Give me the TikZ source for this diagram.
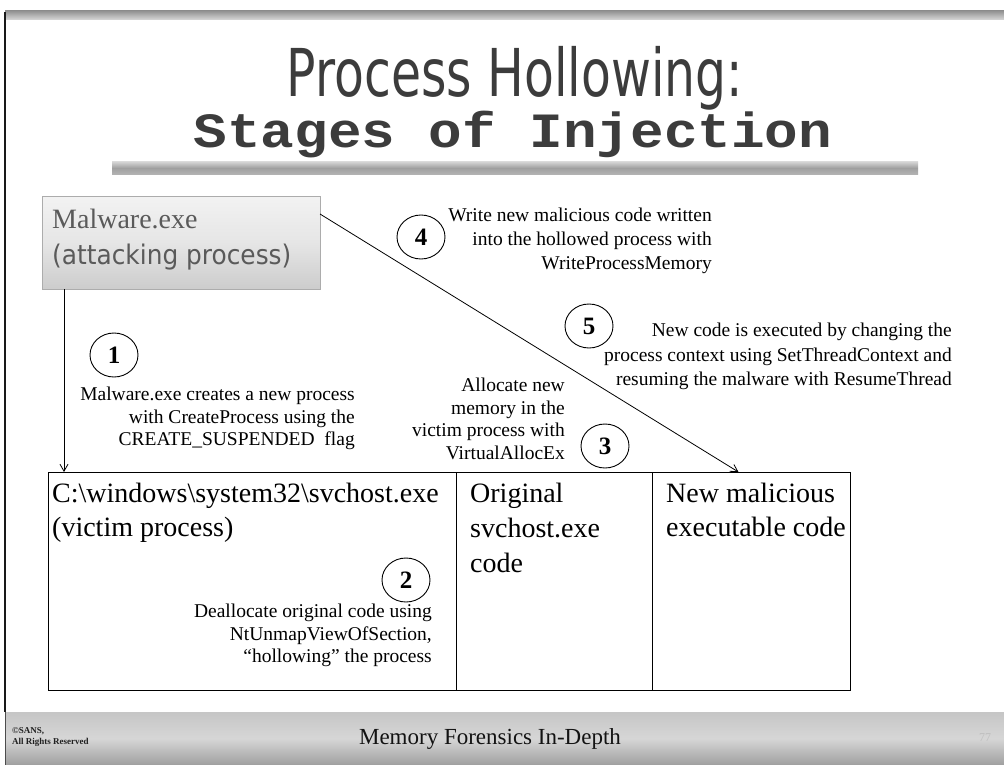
\documentclass[tikz,border=0pt]{standalone}
\usepackage{fontspec}
\setmainfont{Liberation Serif}
\setmonofont{Liberation Mono}
\newfontfamily\slidesans{DejaVu Sans}
\usetikzlibrary{arrows.meta,shapes.geometric}
\definecolor{titlegray}{HTML}{3C3C3C}
\definecolor{boxtext}{HTML}{5A5A5A}
\begin{document}
\begin{tikzpicture}[x=1pt,y=-1pt,
  stage/.style={draw, ellipse, minimum width=48pt, minimum height=44pt, inner sep=0pt,
    line width=0.9pt, fill=white, font=\fontsize{25}{25}\selectfont\bfseries},
  note/.style={align=right, inner sep=0pt, anchor=north east,
    font=\fontsize{19.5}{22.5}\selectfont},
  cell/.style={draw, line width=0.9pt, anchor=north west, inner sep=0pt},
  celltext/.style={align=left, inner sep=0pt, anchor=north west,
    font=\fontsize{28}{34}\selectfont},
  link/.style={line width=0.8pt, -{Straight Barb[length=7pt,width=8pt]}}
]
\useasboundingbox (0,0) rectangle (1004,765);
\fill[white] (0,0) rectangle (1004,765);

% slide frame and footer band
\shade[top color=gray!85, bottom color=gray!30] (5,11) rectangle (1004,20);
\draw[line width=1.2pt, gray!20!black] (5,12) -- (5,712);
\shade[top color=gray!45, bottom color=gray!75, middle color=gray!32] (5,712) rectangle (1004,765);
\draw[line width=1pt, gray!60!black] (5,712) -- (5,765);

% title
\node[font=\slidesans\fontsize{66}{66}\selectfont, text=titlegray, inner sep=0pt, anchor=base]
  (title) at (515,97) {\scalebox{0.74}[1]{Process Hollowing:}};
\node[font=\ttfamily\bfseries\fontsize{56}{56}\selectfont, text=titlegray, inner sep=0pt, anchor=base]
  (subtitle) at (513,148) {\scalebox{1}[0.88]{Stages of Injection}};
\shade[top color=gray!35, bottom color=gray!60, middle color=gray!75] (112,162) rectangle (918,174);

% attacking process
\node[draw=gray!65, line width=0.8pt, top color=gray!10, bottom color=gray!40, middle color=gray!20,
  minimum width=278pt, minimum height=93pt, anchor=north west, inner sep=0pt] (malware) at (42,196) {};
\node[font=\fontsize{28}{28}\selectfont, text=boxtext, inner sep=0pt, anchor=base west]
  (malname) at (52,228) {Malware.exe};
\node[font=\slidesans\fontsize{27}{27}\selectfont, text=boxtext, inner sep=0pt, anchor=base west]
  (malrole) at (52,264) {\scalebox{0.92}[1]{(attacking process)}};

% memory of the victim process
\node[cell, minimum width=408pt, minimum height=218pt] (victim) at (48,472) {};
\node[cell, minimum width=196pt, minimum height=218pt] (orig) at (456,472) {};
\node[cell, minimum width=198pt, minimum height=218pt] (newcode) at (652,472) {};
\node[celltext] (victimtxt) at (52,483) {C:\textbackslash windows\textbackslash system32\textbackslash svchost.exe\\(victim process)};
\node[celltext, font=\fontsize{28}{35}\selectfont] (origtxt) at (470,483) {Original\\svchost.exe\\code};
\node[celltext] (newtxt) at (666,483) {New malicious\\executable code};

% connectors
\coordinate (spawn) at (64,289);
\coordinate (inject) at (320,214);
\draw[link] (spawn) -- (spawn |- victim.north);
\draw[link] (inject) -- ([xshift=-13pt]newcode.north);

% stages
\node[stage] (s1) at (114,355) {1};
\node[note] (n1) at (355,387) {Malware.exe creates a new process\\with CreateProcess using the\\CREATE\_SUSPENDED\ \ flag};

\node[stage] (s2) at (406,580) {2};
\node[note] (n2) at (432,604) {Deallocate original code using\\NtUnmapViewOfSection,\\``hollowing'' the process};

\node[stage] (s3) at (605,446) {3};
\node[note] (n3) at (565,378) {Allocate new\\memory in the\\victim process with\\VirtualAllocEx};

\node[stage] (s4) at (421,237) {4};
\node[note, font=\fontsize{19.5}{24}\selectfont] (n4) at (712,208) {Write new malicious code written\\into the hollowed process with\\WriteProcessMemory};

\node[stage] (s5) at (589,326) {5};
\node[note, font=\fontsize{19.5}{24.5}\selectfont] (n5) at (952,323) {New code is executed by changing the\\process context using SetThreadContext and\\resuming the malware with ResumeThread};

% footer
\node[font=\bfseries\fontsize{9}{11}\selectfont, text=gray!25!black, align=left, inner sep=0pt, anchor=west]
  (copy) at (12,737) {\textcopyright SANS,\\All Rights Reserved};
\node[font=\fontsize{23}{23}\selectfont, text=gray!15!black, inner sep=0pt, anchor=base]
  (course) at (490,744) {Memory Forensics In-Depth};
\node[font=\fontsize{12}{12}\selectfont, text=gray!50, inner sep=0pt, anchor=base]
  (page) at (985,741) {77};
\end{tikzpicture}
\end{document}
